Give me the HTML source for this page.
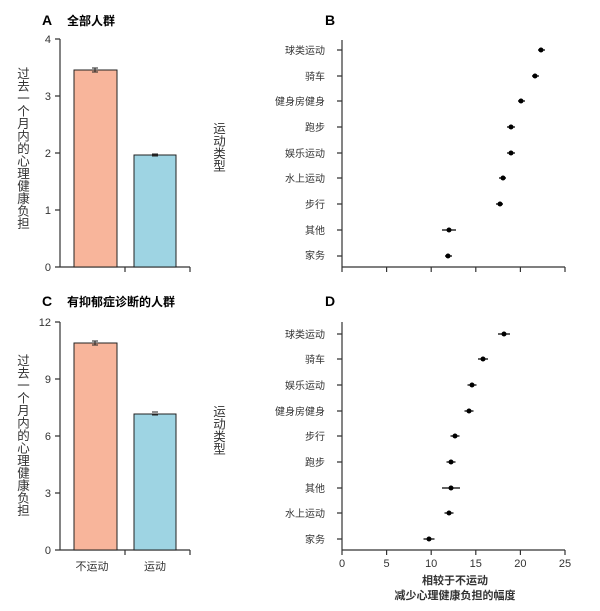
<!DOCTYPE html>
<html><head><meta charset="utf-8"><style>body{margin:0;background:#fff}svg{display:block}</style></head><body>
<svg width="600" height="611" xmlns="http://www.w3.org/2000/svg" font-family="Liberation Sans, Noto Sans CJK SC, sans-serif">
<g fill="#000" font-weight="bold" font-size="12">
<text x="42" y="25" font-size="14">A</text><text x="67" y="25">全部人群</text>
<text x="42" y="306" font-size="14">C</text><text x="67" y="306">有抑郁症诊断的人群</text>
<text x="325" y="25" font-size="14">B</text><text x="325" y="306" font-size="14">D</text>
</g>
<g stroke="#333" stroke-width="1.2" fill="none">
<path d="M60 39V267H190M125 267v5M190 267v5M55 39h5M55 96h5M55 153h5M55 210h5M55 267h5"/>
<path d="M60 322V550H190M125 550v5M190 550v5M55 322h5M55 379h5M55 436h5M55 493h5M55 550h5"/>
<path d="M342 40V267H565M342 267v5M386.6 267v5M431.2 267v5M475.8 267v5M520.4 267v5M565 267v5"/>
<path d="M342 322V550H565M342 550v5M386.6 550v5M431.2 550v5M475.8 550v5M520.4 550v5M565 550v5"/>
</g>
<g stroke="#222" stroke-width="1">
<rect x="74" y="70" width="43" height="197" fill="#f8b59b"/>
<rect x="134" y="155" width="42" height="112" fill="#9ed4e3"/>
<rect x="74" y="343" width="43" height="207" fill="#f8b59b"/>
<rect x="134" y="414" width="42" height="136" fill="#9ed4e3"/>
<path d="M92 68h6M95 68v4M92 72h6M152 154h6M152 156h6M92 341h6M95 341v4M92 345h6M152 412h6M152 415h6"/>
</g>
<g font-size="11" fill="#333" text-anchor="end">
<text x="51" y="43">4</text><text x="51" y="100">3</text><text x="51" y="157">2</text><text x="51" y="214">1</text><text x="51" y="271">0</text>
<text x="51" y="326">12</text><text x="51" y="383">9</text><text x="51" y="440">6</text><text x="51" y="497">3</text><text x="51" y="554">0</text>
</g>
<g font-size="11" fill="#333" text-anchor="middle">
<text x="92" y="570">不运动</text><text x="155" y="570">运动</text>
<text x="342" y="567">0</text><text x="386.6" y="567">5</text><text x="431.2" y="567">10</text><text x="475.8" y="567">15</text><text x="520.4" y="567">20</text><text x="565" y="567">25</text>
<text x="455" y="584" font-weight="bold">相较于不运动</text>
<text x="455" y="599" font-weight="bold">减少心理健康负担的幅度</text>
</g>
<g font-size="12.5" fill="#333" text-anchor="middle">
<text x="22" y="148" style="writing-mode:tb">过去一个月内的心理健康负担</text>
<text x="22" y="435" style="writing-mode:tb">过去一个月内的心理健康负担</text>
<text x="218" y="147" style="writing-mode:tb">运动类型</text>
<text x="218" y="430" style="writing-mode:tb">运动类型</text>
</g>
<g font-size="10" fill="#333" text-anchor="end">
<text x="325" y="54">球类运动</text><text x="325" y="80">骑车</text><text x="325" y="105">健身房健身</text><text x="325" y="131">跑步</text><text x="325" y="157">娱乐运动</text><text x="325" y="182">水上运动</text><text x="325" y="208">步行</text><text x="325" y="234">其他</text><text x="325" y="259">家务</text>
<text x="325" y="338">球类运动</text><text x="325" y="363">骑车</text><text x="325" y="389">娱乐运动</text><text x="325" y="415">健身房健身</text><text x="325" y="440">步行</text><text x="325" y="466">跑步</text><text x="325" y="492">其他</text><text x="325" y="517">水上运动</text><text x="325" y="543">家务</text>
</g>
<g stroke="#333" stroke-width="1.2">
<path d="M337 50h5M337 76h5M337 101h5M337 127h5M337 153h5M337 178h5M337 204h5M337 230h5M337 256h5"/>
<path d="M337 334h5M337 359h5M337 385h5M337 411h5M337 436h5M337 462h5M337 488h5M337 513h5M337 539h5"/>
<path stroke="#000" d="M538 50h7M532 76h7M518 101h7M507 127h8M507 153h8M499 178h7M496 204h7M442 230h14M445 256h7
M498 334h12M478 359h10M467.5 385h9M464.5 411h9M450.5 436h9M446.5 462h9M442 488h18M444.5 513h9M423.5 539h11"/>
</g>
<g fill="#000">
<circle cx="541" cy="50" r="2.5"/><circle cx="535" cy="76" r="2.5"/><circle cx="521" cy="101" r="2.5"/><circle cx="511" cy="127" r="2.5"/><circle cx="511" cy="153" r="2.5"/><circle cx="503" cy="178" r="2.5"/><circle cx="500" cy="204" r="2.5"/><circle cx="449" cy="230" r="2.5"/><circle cx="448" cy="256" r="2.5"/>
<circle cx="504" cy="334" r="2.5"/><circle cx="483" cy="359" r="2.5"/><circle cx="472" cy="385" r="2.5"/><circle cx="469" cy="411" r="2.5"/><circle cx="455" cy="436" r="2.5"/><circle cx="451" cy="462" r="2.5"/><circle cx="451" cy="488" r="2.5"/><circle cx="449" cy="513" r="2.5"/><circle cx="429" cy="539" r="2.5"/>
</g>
</svg>
</body></html>
